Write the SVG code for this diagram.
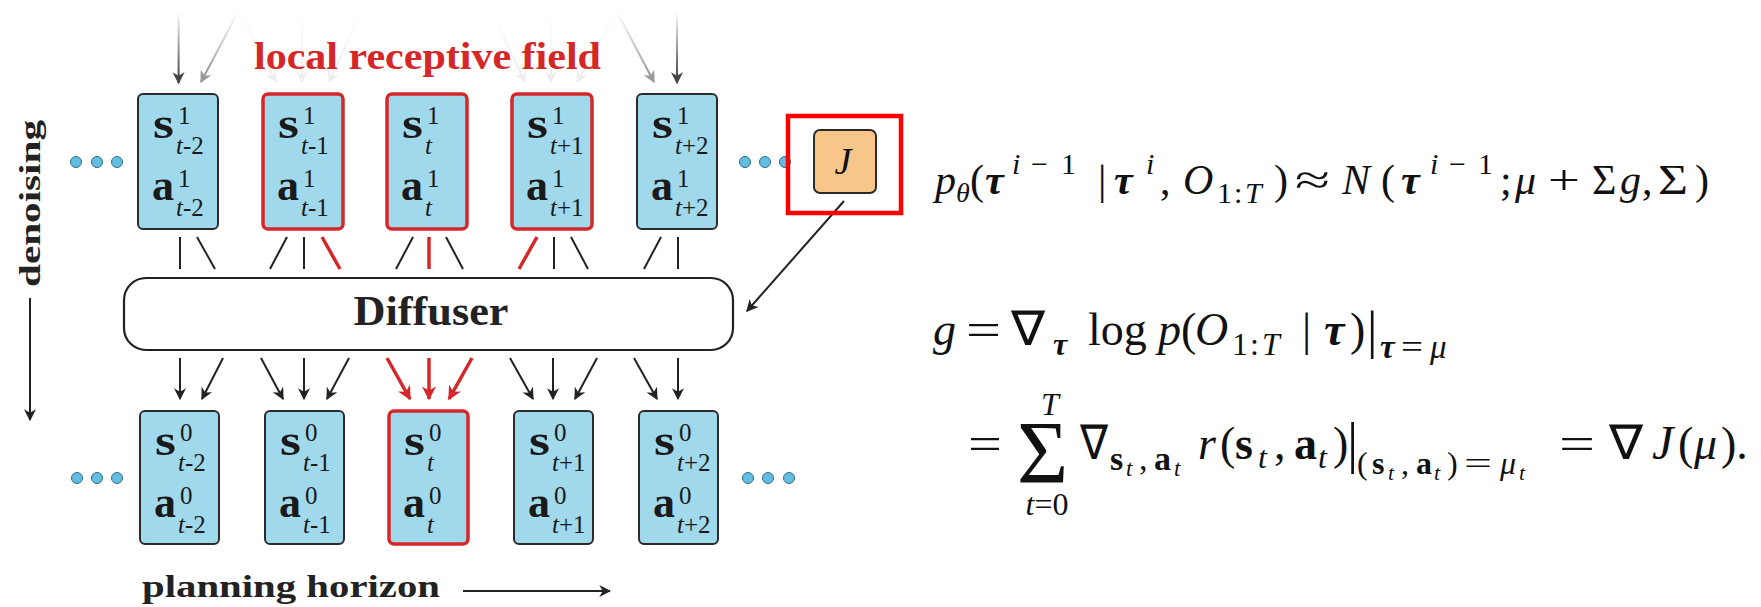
<svg xmlns="http://www.w3.org/2000/svg" width="1761" height="607" viewBox="0 0 1761 607">
<style>
.box{fill:#a0d8ec;stroke:#2b2b2b;stroke-width:2}
.boxr{fill:#a0d8ec;stroke:#d62728;stroke-width:3.5}
.bv{font-family:"Liberation Serif",serif;font-weight:bold;font-size:44px;fill:#1a1a1a}
.sup{font-family:"Liberation Serif",serif;font-size:25px;fill:#1a1a1a}
.sub{font-family:"Liberation Serif",serif;font-size:25px;fill:#1a1a1a}
.it{font-style:italic}
.ln{stroke:#222;stroke-width:2;fill:none}
.lnr{stroke:#d62728;stroke-width:3.5;fill:none}
.dot{fill:#62bde0;stroke:#2f6f8c;stroke-width:1}
.lbl{font-family:"Liberation Serif",serif;font-weight:bold;fill:#222}
.eq{font-family:"Liberation Serif",serif;fill:#111}
.bi{font-weight:bold;font-style:italic}
.b{font-weight:bold}
</style>
<defs>
<marker id="ah" viewBox="0 0 10 10" refX="9" refY="5" markerWidth="12" markerHeight="12" markerUnits="userSpaceOnUse" orient="auto"><path d="M0,0 L10,5 L0,10 L3,5 z" fill="#222"/></marker>
<marker id="ahr" viewBox="0 0 10 10" refX="9" refY="5" markerWidth="14" markerHeight="14" markerUnits="userSpaceOnUse" orient="auto"><path d="M0,0 L10,5 L0,10 L3,5 z" fill="#d62728"/></marker>
<marker id="ahd" viewBox="0 0 10 10" refX="9" refY="5" markerWidth="12" markerHeight="12" markerUnits="userSpaceOnUse" orient="auto"><path d="M0,0 L10,5 L0,10 L3,5 z" fill="#444"/></marker>
<marker id="ahg" viewBox="0 0 10 10" refX="9" refY="5" markerWidth="12" markerHeight="12" markerUnits="userSpaceOnUse" orient="auto"><path d="M0,0 L10,5 L0,10 L3,5 z" fill="#999"/></marker>
<marker id="ahf" viewBox="0 0 10 10" refX="9" refY="5" markerWidth="12" markerHeight="12" markerUnits="userSpaceOnUse" orient="auto"><path d="M0,0 L10,5 L0,10 L3,5 z" fill="#eee"/></marker>
<linearGradient id="gdark" gradientUnits="userSpaceOnUse" x1="0" y1="12" x2="0" y2="83"><stop offset="0" stop-color="#fff"/><stop offset="1" stop-color="#333"/></linearGradient>
<linearGradient id="glight" gradientUnits="userSpaceOnUse" x1="0" y1="12" x2="0" y2="83"><stop offset="0" stop-color="#fff"/><stop offset="1" stop-color="#888"/></linearGradient>
<linearGradient id="gfaint" gradientUnits="userSpaceOnUse" x1="0" y1="12" x2="0" y2="83"><stop offset="0" stop-color="#fff"/><stop offset="1" stop-color="#ebebeb"/></linearGradient>
</defs>
<rect width="1761" height="607" fill="#fff"/>

<g id="connectors">
<line x1="178.6" y1="12" x2="178.6" y2="83" stroke="url(#gdark)" stroke-width="2" marker-end="url(#ahd)"/>
<line x1="238" y1="12" x2="201" y2="82" stroke="url(#glight)" stroke-width="2" marker-end="url(#ahg)"/>
<line x1="240" y1="12" x2="276" y2="82" stroke="url(#gfaint)" stroke-width="2" marker-end="url(#ahf)"/>
<line x1="302" y1="12" x2="302" y2="82" stroke="url(#gfaint)" stroke-width="2" marker-end="url(#ahf)"/>
<line x1="361" y1="12" x2="329" y2="82" stroke="url(#gfaint)" stroke-width="2" marker-end="url(#ahf)"/>
<line x1="492" y1="12" x2="525" y2="82" stroke="url(#gfaint)" stroke-width="2" marker-end="url(#ahf)"/>
<line x1="551" y1="12" x2="551" y2="82" stroke="url(#gfaint)" stroke-width="2" marker-end="url(#ahf)"/>
<line x1="617" y1="12" x2="577" y2="82" stroke="url(#gfaint)" stroke-width="2" marker-end="url(#ahf)"/>
<line x1="617" y1="12" x2="654" y2="82" stroke="url(#glight)" stroke-width="2" marker-end="url(#ahg)"/>
<line x1="677" y1="12" x2="677" y2="83" stroke="url(#gdark)" stroke-width="2" marker-end="url(#ahd)"/>

<line class="ln" x1="180" y1="237" x2="180" y2="269"/>
<line class="ln" x1="197" y1="237" x2="215" y2="269"/>
<line class="ln" x1="287" y1="237" x2="270" y2="269"/>
<line class="ln" x1="304" y1="237" x2="304" y2="269"/>
<line class="lnr" x1="322" y1="237" x2="340" y2="269"/>
<line class="ln" x1="413" y1="237" x2="396" y2="269"/>
<line class="lnr" x1="429" y1="237" x2="429" y2="269"/>
<line class="ln" x1="446" y1="237" x2="463" y2="269"/>
<line class="lnr" x1="537" y1="237" x2="519" y2="269"/>
<line class="ln" x1="554" y1="237" x2="554" y2="269"/>
<line class="ln" x1="571" y1="237" x2="588" y2="269"/>
<line class="ln" x1="661" y1="237" x2="644" y2="269"/>
<line class="ln" x1="678" y1="237" x2="678" y2="269"/>

<line class="ln" x1="180" y1="358" x2="180" y2="399" marker-end="url(#ah)"/>
<line class="ln" x1="223" y1="358" x2="202" y2="399" marker-end="url(#ah)"/>
<line class="ln" x1="261" y1="358" x2="283" y2="399" marker-end="url(#ah)"/>
<line class="ln" x1="304" y1="358" x2="304" y2="399" marker-end="url(#ah)"/>
<line class="ln" x1="349" y1="358" x2="327" y2="399" marker-end="url(#ah)"/>
<line class="lnr" x1="387" y1="358" x2="410" y2="399" marker-end="url(#ahr)"/>
<line class="lnr" x1="429" y1="358" x2="429" y2="399" marker-end="url(#ahr)"/>
<line class="lnr" x1="472" y1="358" x2="449" y2="399" marker-end="url(#ahr)"/>
<line class="ln" x1="510" y1="358" x2="533" y2="399" marker-end="url(#ah)"/>
<line class="ln" x1="553" y1="358" x2="553" y2="399" marker-end="url(#ah)"/>
<line class="ln" x1="597" y1="358" x2="575" y2="399" marker-end="url(#ah)"/>
<line class="ln" x1="634" y1="358" x2="657" y2="399" marker-end="url(#ah)"/>
<line class="ln" x1="678" y1="358" x2="678" y2="399" marker-end="url(#ah)"/>

<line class="ln" x1="844" y1="201" x2="747" y2="311" marker-end="url(#ah)"/>
<line class="ln" x1="30" y1="298" x2="30" y2="420" marker-end="url(#ah)"/>
<line class="ln" x1="463" y1="591" x2="610" y2="591" marker-end="url(#ah)"/>
</g>

<g id="label-local">
<text class="lbl" x="254" y="69" font-size="38" style="fill:#d62728" textLength="347" lengthAdjust="spacingAndGlyphs">local receptive field</text>
</g>
<g id="label-denoising">
<text class="lbl" transform="translate(40,287) rotate(-90)" x="0" y="0" font-size="30" textLength="167" lengthAdjust="spacingAndGlyphs">denoising</text>
</g>
<g id="label-planning">
<text class="lbl" x="142" y="597" font-size="31" textLength="298" lengthAdjust="spacingAndGlyphs">planning horizon</text>
</g>

<g id="dots-top-left"><circle class="dot" cx="76" cy="162" r="5.5"/><circle class="dot" cx="97" cy="162" r="5.5"/><circle class="dot" cx="117" cy="162" r="5.5"/></g>
<g id="dots-top-right"><circle class="dot" cx="745" cy="162" r="5.5"/><circle class="dot" cx="765" cy="162" r="5.5"/><circle class="dot" cx="785" cy="162" r="5.5"/></g>
<g id="dots-bottom-left"><circle class="dot" cx="77" cy="478" r="5.5"/><circle class="dot" cx="97" cy="478" r="5.5"/><circle class="dot" cx="117" cy="478" r="5.5"/></g>
<g id="dots-bottom-right"><circle class="dot" cx="748" cy="478" r="5.5"/><circle class="dot" cx="768" cy="478" r="5.5"/><circle class="dot" cx="789" cy="478" r="5.5"/></g>

<g id="top-tm2">
<rect class="box" x="138" y="94" width="80" height="135" rx="5"/>
<text class="bv" x="153" y="138" textLength="21" lengthAdjust="spacingAndGlyphs">s</text><text class="sup" x="178" y="124">1</text><text class="sub" x="176" y="154"><tspan class="it">t</tspan>-2</text>
<text class="bv" x="152" y="200">a</text><text class="sup" x="178" y="187">1</text><text class="sub" x="176" y="216"><tspan class="it">t</tspan>-2</text>
</g>
<g id="top-tm1">
<rect class="boxr" x="263" y="94" width="80" height="135" rx="5"/>
<text class="bv" x="278" y="138" textLength="21" lengthAdjust="spacingAndGlyphs">s</text><text class="sup" x="303" y="124">1</text><text class="sub" x="301" y="154"><tspan class="it">t</tspan>-1</text>
<text class="bv" x="277" y="200">a</text><text class="sup" x="303" y="187">1</text><text class="sub" x="301" y="216"><tspan class="it">t</tspan>-1</text>
</g>
<g id="top-t">
<rect class="boxr" x="387" y="94" width="80" height="135" rx="5"/>
<text class="bv" x="402" y="138" textLength="21" lengthAdjust="spacingAndGlyphs">s</text><text class="sup" x="427" y="124">1</text><text class="sub" x="425" y="154"><tspan class="it">t</tspan></text>
<text class="bv" x="401" y="200">a</text><text class="sup" x="427" y="187">1</text><text class="sub" x="425" y="216"><tspan class="it">t</tspan></text>
</g>
<g id="top-tp1">
<rect class="boxr" x="512" y="94" width="80" height="135" rx="5"/>
<text class="bv" x="527" y="138" textLength="21" lengthAdjust="spacingAndGlyphs">s</text><text class="sup" x="552" y="124">1</text><text class="sub" x="550" y="154"><tspan class="it">t</tspan>+1</text>
<text class="bv" x="526" y="200">a</text><text class="sup" x="552" y="187">1</text><text class="sub" x="550" y="216"><tspan class="it">t</tspan>+1</text>
</g>
<g id="top-tp2">
<rect class="box" x="637" y="94" width="80" height="135" rx="5"/>
<text class="bv" x="652" y="138" textLength="21" lengthAdjust="spacingAndGlyphs">s</text><text class="sup" x="677" y="124">1</text><text class="sub" x="675" y="154"><tspan class="it">t</tspan>+2</text>
<text class="bv" x="651" y="200">a</text><text class="sup" x="677" y="187">1</text><text class="sub" x="675" y="216"><tspan class="it">t</tspan>+2</text>
</g>

<g id="bot-tm2">
<rect class="box" x="140" y="411" width="79" height="133" rx="5"/>
<text class="bv" x="155" y="455" textLength="21" lengthAdjust="spacingAndGlyphs">s</text><text class="sup" x="180" y="441">0</text><text class="sub" x="178" y="471"><tspan class="it">t</tspan>-2</text>
<text class="bv" x="154" y="517">a</text><text class="sup" x="180" y="504">0</text><text class="sub" x="178" y="533"><tspan class="it">t</tspan>-2</text>
</g>
<g id="bot-tm1">
<rect class="box" x="265" y="411" width="79" height="133" rx="5"/>
<text class="bv" x="280" y="455" textLength="21" lengthAdjust="spacingAndGlyphs">s</text><text class="sup" x="305" y="441">0</text><text class="sub" x="303" y="471"><tspan class="it">t</tspan>-1</text>
<text class="bv" x="279" y="517">a</text><text class="sup" x="305" y="504">0</text><text class="sub" x="303" y="533"><tspan class="it">t</tspan>-1</text>
</g>
<g id="bot-t">
<rect class="boxr" x="389" y="411" width="79" height="133" rx="5"/>
<text class="bv" x="404" y="455" textLength="21" lengthAdjust="spacingAndGlyphs">s</text><text class="sup" x="429" y="441">0</text><text class="sub" x="427" y="471"><tspan class="it">t</tspan></text>
<text class="bv" x="403" y="517">a</text><text class="sup" x="429" y="504">0</text><text class="sub" x="427" y="533"><tspan class="it">t</tspan></text>
</g>
<g id="bot-tp1">
<rect class="box" x="514" y="411" width="79" height="133" rx="5"/>
<text class="bv" x="529" y="455" textLength="21" lengthAdjust="spacingAndGlyphs">s</text><text class="sup" x="554" y="441">0</text><text class="sub" x="552" y="471"><tspan class="it">t</tspan>+1</text>
<text class="bv" x="528" y="517">a</text><text class="sup" x="554" y="504">0</text><text class="sub" x="552" y="533"><tspan class="it">t</tspan>+1</text>
</g>
<g id="bot-tp2">
<rect class="box" x="639" y="411" width="79" height="133" rx="5"/>
<text class="bv" x="654" y="455" textLength="21" lengthAdjust="spacingAndGlyphs">s</text><text class="sup" x="679" y="441">0</text><text class="sub" x="677" y="471"><tspan class="it">t</tspan>+2</text>
<text class="bv" x="653" y="517">a</text><text class="sup" x="679" y="504">0</text><text class="sub" x="677" y="533"><tspan class="it">t</tspan>+2</text>
</g>

<g id="diffuser">
<rect x="124" y="278" width="609" height="72" rx="22" fill="#fff" stroke="#222" stroke-width="2.2"/>
<text class="lbl" x="431" y="325" font-size="42" text-anchor="middle" textLength="155" lengthAdjust="spacingAndGlyphs">Diffuser</text>
</g>

<g id="objective">
<rect x="814" y="130" width="62" height="63" rx="6" fill="#f9c68a" stroke="#2b2b2b" stroke-width="2"/>
<text class="eq it" x="843" y="174" font-size="38" text-anchor="middle">J</text>
</g>
<g id="highlight">
<rect x="788" y="116" width="113" height="97" fill="none" stroke="#ff0000" stroke-width="4.5"/>
</g>

<g id="equation-1" class="eq" font-size="42">
<text x="935" y="194" class="it">p</text>
<text x="956" y="202" class="it" font-size="28">θ</text>
<text x="970" y="194">(</text>
<text x="985" y="194" class="bi">τ</text>
<text x="1012" y="174" class="it" font-size="30">i</text>
<text x="1031" y="174" font-size="30">−</text>
<text x="1061" y="174" font-size="30">1</text>
<text x="1098" y="194">|</text>
<text x="1114" y="194" class="bi">τ</text>
<text x="1146" y="174" class="it" font-size="30">i</text>
<text x="1160" y="194">,</text>
<text x="1183" y="194" class="it">O</text>
<text x="1217" y="203" font-size="30">1</text>
<text x="1234" y="203" font-size="30">:</text>
<text x="1245" y="203" font-size="30" class="it">T</text>
<text x="1274" y="194">)</text>
<text x="1295" y="194" textLength="35" lengthAdjust="spacingAndGlyphs">≈</text>
<text x="1342" y="194" class="it">N</text>
<text x="1381" y="194">(</text>
<text x="1401" y="194" class="bi">τ</text>
<text x="1430" y="174" class="it" font-size="30">i</text>
<text x="1449" y="174" font-size="30">−</text>
<text x="1478" y="174" font-size="30">1</text>
<text x="1500" y="194">;</text>
<text x="1515" y="194" class="it">μ</text>
<text x="1548" y="194" textLength="32" lengthAdjust="spacingAndGlyphs">+</text>
<text x="1592" y="194">Σ</text>
<text x="1620" y="194" class="it">g</text>
<text x="1642" y="194">,</text>
<text x="1658" y="194" textLength="30" lengthAdjust="spacingAndGlyphs">Σ</text>
<text x="1695" y="194">)</text>
</g>

<g id="equation-2" class="eq" font-size="46">
<text x="933" y="345" class="it">g</text>
<text x="966" y="345" textLength="35" lengthAdjust="spacingAndGlyphs">=</text>
<text x="1011" y="345" font-size="48" textLength="34" lengthAdjust="spacingAndGlyphs">∇</text>
<text x="1053" y="355" class="bi" font-size="32">τ</text>
<text x="1088" y="345">log</text>
<text x="1158" y="345" class="it">p</text>
<text x="1181" y="345">(</text>
<text x="1195" y="345" class="it">O</text>
<text x="1232" y="355" font-size="32">1</text>
<text x="1250" y="355" font-size="32">:</text>
<text x="1262" y="355" font-size="32" class="it">T</text>
<text x="1302" y="345">|</text>
<text x="1324" y="345" class="bi">τ</text>
<text x="1350" y="345">)</text>
<text x="1367" y="348" font-size="52">|</text>
<text x="1380" y="358" font-size="33" class="bi">τ</text>
<text x="1401" y="358" font-size="33" textLength="22" lengthAdjust="spacingAndGlyphs">=</text>
<text x="1430" y="358" font-size="33" class="it">μ</text>

<text x="968" y="459" textLength="34" lengthAdjust="spacingAndGlyphs">=</text>
<text x="1017" y="482" font-size="88">Σ</text>
<text x="1050" y="415" class="it" font-size="32" text-anchor="middle">T</text>
<text x="1047" y="515" font-size="32" text-anchor="middle"><tspan class="it">t</tspan>=0</text>
<text x="1080" y="459" font-size="48" textLength="28" lengthAdjust="spacingAndGlyphs">∇</text>
<text x="1110" y="470" class="b" font-size="34">s</text>
<text x="1126" y="476" class="it" font-size="23">t</text>
<text x="1139" y="470" font-size="34">,</text>
<text x="1154" y="470" class="b" font-size="34">a</text>
<text x="1174" y="476" class="it" font-size="23">t</text>
<text x="1198" y="459" class="it">r</text>
<text x="1220" y="459">(</text>
<text x="1235" y="459" class="b">s</text>
<text x="1258" y="468" class="it" font-size="32">t</text>
<text x="1274" y="459">,</text>
<text x="1294" y="459" class="b">a</text>
<text x="1318" y="468" class="it" font-size="32">t</text>
<text x="1333" y="459">)</text>
<text x="1347" y="462" font-size="56">|</text>
<g font-size="32">
<text x="1357" y="474">(</text>
<text x="1372" y="474" class="b">s</text>
<text x="1388" y="480" class="it" font-size="22">t</text>
<text x="1401" y="474">,</text>
<text x="1416" y="474" class="b">a</text>
<text x="1434" y="480" class="it" font-size="22">t</text>
<text x="1447" y="474">)</text>
<text x="1464" y="474" textLength="28" lengthAdjust="spacingAndGlyphs">=</text>
<text x="1500" y="474" class="it">μ</text>
<text x="1519" y="480" class="it" font-size="22">t</text>
</g>
<text x="1559" y="459" textLength="36" lengthAdjust="spacingAndGlyphs">=</text>
<text x="1609" y="459" font-size="48" textLength="34" lengthAdjust="spacingAndGlyphs">∇</text>
<text x="1652" y="459" class="it" font-size="48">J</text>
<text x="1678" y="459">(</text>
<text x="1694" y="459" class="it">μ</text>
<text x="1721" y="459">).</text>
</g>
</svg>
